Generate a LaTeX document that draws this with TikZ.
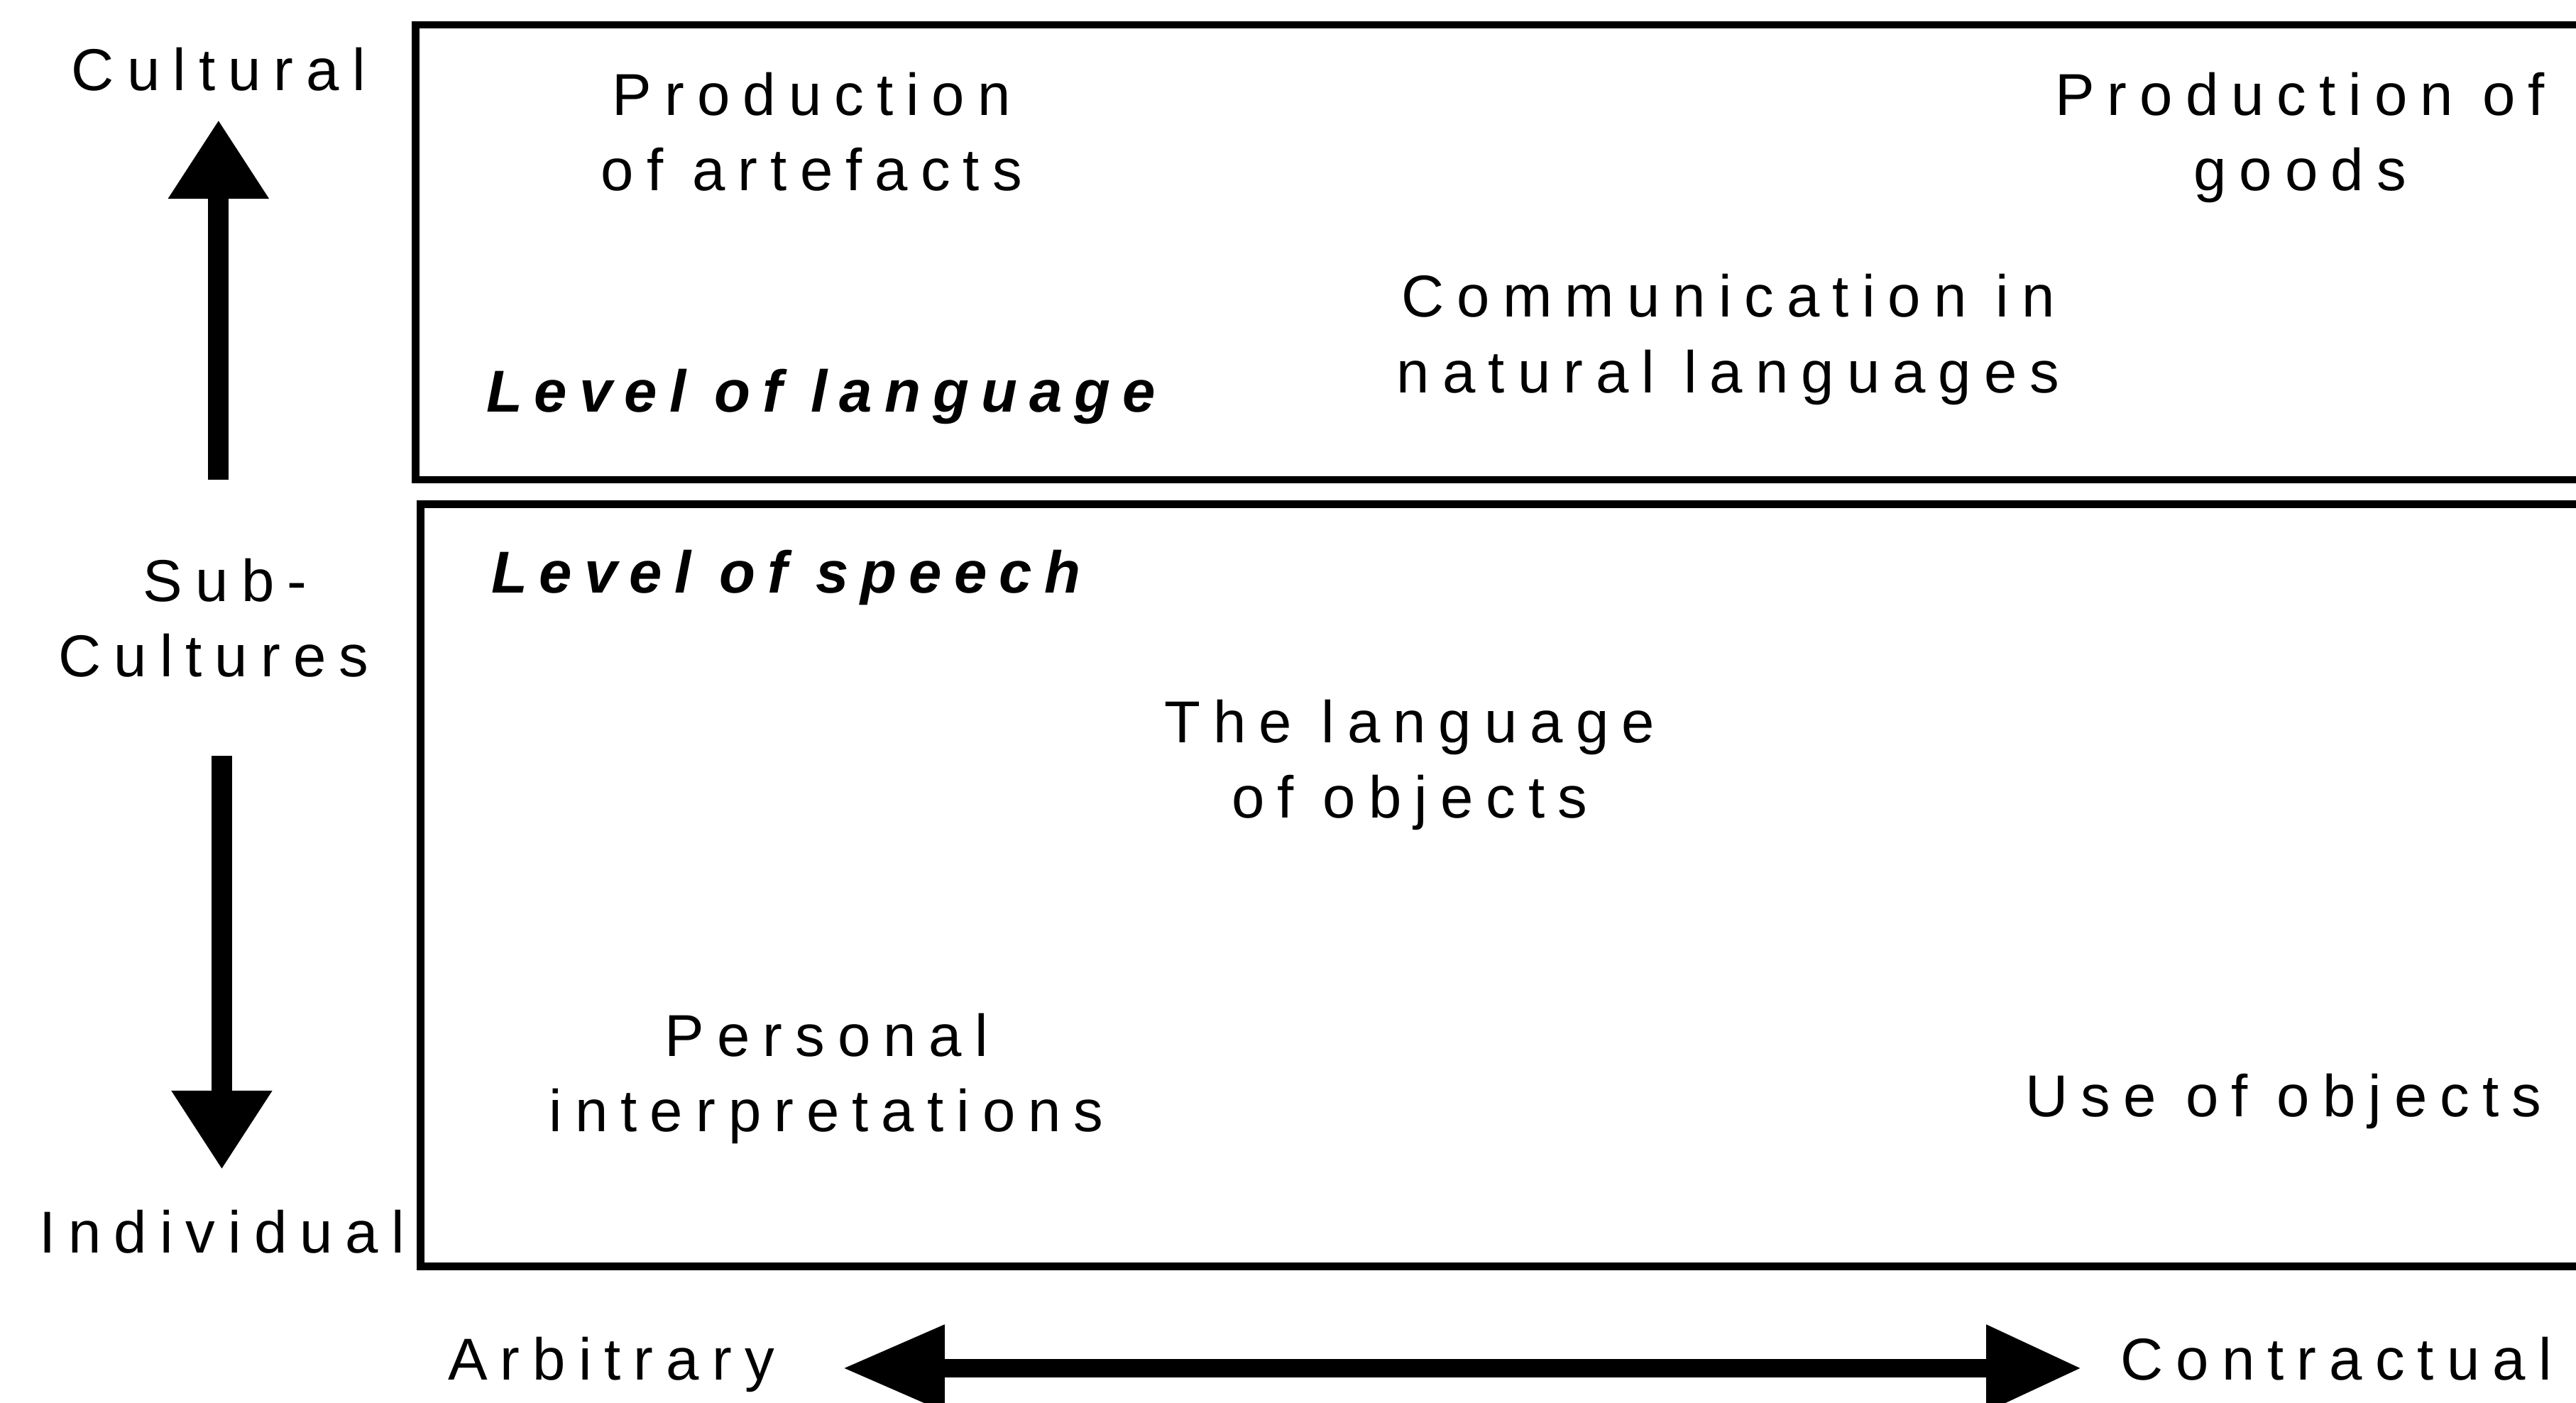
\documentclass[tikz,border=0pt]{standalone}
\usepackage{fontspec}
\setmainfont{Liberation Sans}
\newfontfamily\labelfont{Liberation Sans}[LetterSpace=21.7]
\newfontfamily\levelfont{Liberation Sans}[LetterSpace=20.5]
\usetikzlibrary{arrows.meta}

\tikzset{
  lbl/.style={inner sep=0pt, outer sep=0pt, align=center,
    font=\labelfont\fontsize{36}{46}\selectfont},
  lvl/.style={inner sep=0pt, outer sep=0pt, anchor=base west,
    font=\levelfont\fontsize{36}{46}\selectfont\bfseries\itshape},
  frame/.style={line width=4.5pt, line join=miter},
  vaxis/.style={line width=12.5pt, -{Triangle[length=48pt,width=58pt]}},
  haxis/.style={line width=11pt,
    {Triangle[length=62pt,width=50pt]}-{Triangle[length=58pt,width=50pt]}}
}

% two-line labels are placed by the baseline of their last line
\begin{document}
\begin{tikzpicture}[x=1pt,y=-1pt]
  \useasboundingbox (0,0) rectangle (1568,854);
  \clip (0,0) rectangle (1568,854);

  % the two level frames, open to the right
  \draw[frame] (1620,15) -- (253,15) -- (253,292) -- (1620,292);
  \draw[frame] (1620,307) -- (256,307) -- (256,771) -- (1620,771);

  % vertical scale
  \node[lbl, anchor=base] (cultural) at (133,55) {Cultural};
  \node[lbl, anchor=base] (sub) at (130,412) {\hspace*{14pt}Sub-\\Cultures};
  \node[lbl, anchor=base] (individual) at (135,763) {Individual};
  \coordinate (upfoot) at (133,292);
  \coordinate (uptip) at (133,73);
  \coordinate (downfoot) at (135,460);
  \coordinate (downtip) at (135,712);
  \draw[vaxis] (upfoot) -- (uptip);
  \draw[vaxis] (downfoot) -- (downtip);

  % horizontal scale
  \node[lbl, anchor=base] (arbitrary) at (372,840) {Arbitrary};
  \node[lbl, anchor=base] (contractual) at (1422,840) {Contractual};
  \coordinate (hleft) at (513,833);
  \coordinate (hright) at (1267,833);
  \draw[haxis] (hleft) -- (hright);

  % level of language
  \node[lbl, anchor=base] (artefacts) at (494,116) {Production\\of artefacts};
  \node[lbl, anchor=base] (goods) at (1400,116) {Production of\\goods};
  \node[lbl, anchor=base] (natural) at (1052,239) {Communication in\\natural languages};
  \node[lvl] (language) at (296,251) {Level of language};

  % level of speech
  \node[lvl] (speech) at (299,361) {Level of speech};
  \node[lbl, anchor=base] (objlang) at (858,498) {The language\\of objects};
  \node[lbl, anchor=base] (personal) at (503,689) {Personal\\interpretations};
  \node[lbl, anchor=base] (useobj) at (1390,680) {Use of objects};
\end{tikzpicture}
\end{document}
